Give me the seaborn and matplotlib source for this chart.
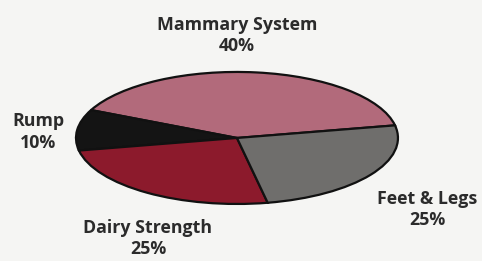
import matplotlib
matplotlib.use('Agg')
import matplotlib.pyplot as plt
import seaborn as sns

labels = ['Mammary System', 'Rump', 'Dairy Strength', 'Feet & Legs']
shares = [40, 10, 25, 25]
colors = ['#b26a7b', '#141414', '#8c1a2c', '#6f6e6c']

# where each label sits (data coords of the squashed pie)
label_pos = [(0.0, 1.55), (-1.236, 0.09), (-0.553, -1.53), (1.18, -1.09)]

sns.set_theme(style='white')
plt.rcParams['font.family'] = ['Open Sans', 'DejaVu Sans']

fig = plt.figure(figsize=(4.82, 2.61), dpi=100, facecolor='#f5f5f3')
ax = fig.add_axes([0, 0, 1, 1])
ax.set_facecolor('#f5f5f3')

ax.pie(shares, colors=colors, startangle=11, counterclock=True,
       wedgeprops=dict(edgecolor='#111111', linewidth=1.6))
ax.set_aspect('auto')
ax.set_xlim(-1.472, 1.522)
ax.set_ylim(-1.864, 2.09)
ax.axis('off')

for lab, val, (x, y) in zip(labels, shares, label_pos):
    ax.text(x, y, f'{lab}\n{val}%', ha='center', va='center',
            fontsize=12.8, fontweight='bold', color='#2b2b2b', linespacing=1.22)

fig.savefig('out.png', dpi=100, facecolor=fig.get_facecolor())
